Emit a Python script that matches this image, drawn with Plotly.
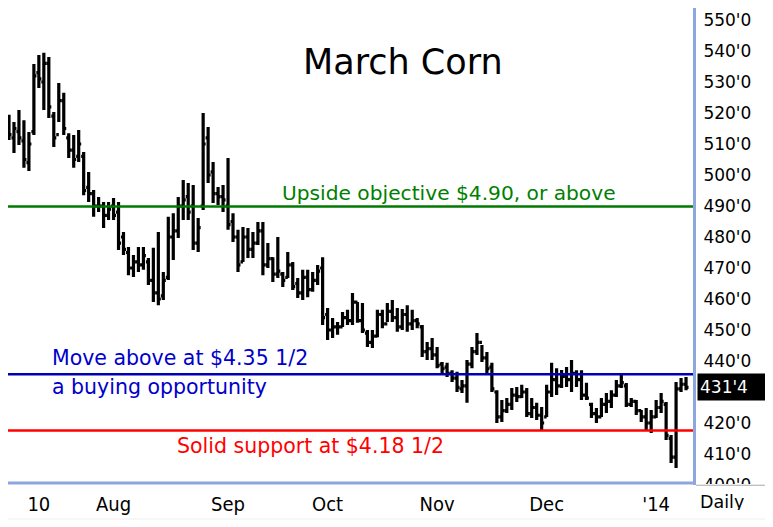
import pandas as pd
import plotly.graph_objects as go

# ---- data ----
holidays = ["2013-07-04", "2013-09-02", "2013-11-28", "2013-12-25", "2014-01-01"]
dates = [d.strftime("%Y-%m-%d") for d in
         pd.bdate_range("2013-07-01", "2014-01-14", freq="C", holidays=holidays)]

highs = [519.4, 517.1, 521.0, 517.7, 513.9, 535.8, 538.7, 539.4, 538.1, 520.3,
         529.7, 526.5, 513.5, 512.9, 514.5, 507.4, 501.0, 495.2, 492.9, 491.3,
         491.3, 492.6, 491.3, 481.6, 476.8, 474.2, 476.8, 476.8, 473.2, 476.5,
         481.6, 468.7, 486.5, 487.7, 492.9, 498.4, 497.4, 496.8, 486.1, 520.0,
         515.5, 504.2, 496.1, 496.8, 505.5, 487.7, 482.3, 483.2, 482.9, 481.6,
         484.8, 484.8, 478.1, 473.5, 480.0, 468.7, 475.2, 471.9, 466.8, 469.4,
         469.4, 468.7, 471.0, 473.5, 457.1, 453.9, 452.6, 455.8, 456.5, 461.9,
         459.0, 458.7, 450.0, 450.0, 456.5, 456.5, 458.7, 459.7, 457.1, 456.8,
         458.0, 456.5, 453.9, 451.6, 446.1, 447.4, 444.5, 439.7, 439.4, 437.0,
         436.5, 433.9, 440.3, 444.5, 449.0, 445.2, 442.9, 439.4, 430.6, 427.4,
         428.1, 431.3, 431.6, 432.3, 431.3, 428.1, 426.5, 425.2, 432.3, 439.4,
         437.7, 437.1, 438.1, 440.3, 437.0, 437.0, 433.0, 426.5, 424.8, 428.1,
         429.7, 430.6, 433.9, 435.5, 432.9, 428.1, 427.4, 424.2, 424.8, 424.2,
         427.4, 429.7, 426.8, 416.1, 433.2, 434.5, 434.8]
lows = [511.3, 507.1, 509.7, 502.3, 501.3, 512.9, 528.1, 521.0, 518.4, 509.0,
        517.1, 512.9, 505.5, 502.3, 504.2, 493.5, 491.3, 486.5, 488.1, 482.9,
        485.5, 485.5, 475.8, 474.2, 467.7, 467.1, 468.7, 469.4, 464.5, 459.0,
        458.0, 459.7, 466.1, 472.6, 479.7, 485.5, 485.5, 475.8, 475.2, 488.7,
        497.4, 491.0, 490.3, 488.1, 482.3, 478.4, 468.7, 471.9, 473.2, 473.2,
        477.4, 467.7, 470.0, 465.5, 466.8, 463.9, 466.8, 462.9, 460.3, 459.7,
        460.6, 462.3, 464.5, 451.6, 446.8, 447.4, 448.5, 451.0, 451.6, 451.6,
        452.3, 449.0, 444.5, 444.2, 447.7, 450.6, 452.6, 452.6, 449.4, 450.0,
        449.4, 450.0, 450.6, 441.3, 440.3, 440.3, 437.7, 436.1, 434.8, 433.2,
        430.0, 429.7, 426.5, 437.7, 441.9, 439.7, 436.1, 430.0, 420.0, 420.3,
        423.2, 424.2, 426.8, 428.1, 421.9, 421.6, 421.0, 417.7, 421.9, 428.4,
        429.0, 431.3, 431.6, 430.0, 431.6, 427.4, 427.4, 421.6, 420.0, 421.9,
        423.2, 424.8, 428.4, 431.3, 425.2, 425.2, 422.6, 420.3, 417.7, 416.8,
        421.6, 423.2, 414.5, 407.1, 405.5, 430.0, 430.6]
opens = [517, 512, 514, 511, 504, 514, 533, 530, 536, 519,
         513, 524, 512, 508, 506, 506, 496, 494, 490, 490,
         487, 490, 488, 480, 475, 470, 472, 471, 472, 466,
         462, 461, 467, 480, 482, 490, 493, 490, 478, 490,
         512, 501, 494, 493, 490, 485, 480, 472, 480, 476,
         478, 482, 471, 473, 468, 468, 467, 471, 465, 462,
         467, 463, 466, 470, 455, 450, 451, 451, 454, 453,
         459, 453, 449, 446, 448, 455, 452, 456, 454, 451,
         455, 452, 453, 451, 443, 444, 442, 439, 438, 436,
         434.5, 431, 432, 439, 443, 446, 441, 438, 430, 422,
         424, 426, 429, 428.5, 430, 423, 425, 422.5, 422, 430,
         434, 432, 435, 434, 436, 434, 429, 426, 423, 422,
         426, 427, 429, 432, 432, 426, 427, 424, 422, 420,
         422, 425, 426, 415, 409, 431, 432.5]
closes = [513, 515, 512, 505, 510, 532, 531, 536, 522, 512,
          524, 515, 508, 505, 510, 495, 494, 490, 490, 487,
          489, 487, 478, 476, 470, 472, 471, 474, 466, 462,
          460, 466, 480, 482, 490, 492, 488, 478, 483, 510,
          500, 494, 493, 492, 484, 480, 471, 480, 476, 478,
          482, 471, 473, 468, 469, 466, 471, 464, 462, 467,
          463, 466, 469, 454, 450, 451, 451, 454, 453, 459,
          453, 450, 446, 448, 455, 452, 456, 454, 451, 455,
          452, 453, 452, 443, 444, 442, 438.5, 437.5, 436, 434.5,
          431.5, 432, 439, 443, 446, 441, 437.5, 431, 422, 424,
          426, 429, 428.5, 430, 423, 425, 422.5, 420, 430, 434,
          432, 435, 434, 436, 434, 429, 428, 423, 422, 426,
          427, 429, 432, 433, 426, 427, 424, 422, 420, 422,
          425, 427, 416, 409, 431, 432.5, 431.5]

# positions of the time labels as they sit in the picture
month_ticks = ["2013-07-10", "2013-07-31", "2013-09-03", "2013-10-01",
               "2013-10-31", "2013-12-03", "2014-01-06"]
month_labels = ["10", "Aug", "Sep", "Oct", "Nov", "Dec", "'14"]

price_ticks = [400, 410, 420, 440, 450, 460, 470, 480, 490, 500, 510, 520, 530, 540, 550]
price_labels = [f"{v}'0" for v in price_ticks]

objective = 489.8
buy_level = 435.7
support = 417.6
last_price = 431.5
last_label = "431'4"

# ---- figure ----
AX = "#8EA6DE"
fig = go.Figure()
fig.add_trace(go.Ohlc(
    x=dates, open=opens, high=highs, low=lows, close=closes,
    increasing=dict(line=dict(color="black", width=3.2)),
    decreasing=dict(line=dict(color="black", width=3.2)),
    tickwidth=0.5, hoverinfo="skip", showlegend=False,
))

for lvl, col in [(objective, "#007A00"), (buy_level, "#0000B4"), (support, "#FF0000")]:
    fig.add_shape(type="line", xref="paper", yref="y", x0=0, x1=1, y0=lvl, y1=lvl,
                  line=dict(color=col, width=2.5), layer="above")

# bottom axis line (drawn as a shape), faint bottom rule
fig.add_shape(type="line", xref="paper", yref="paper", x0=-0.007, x1=1.0, y0=0.0042, y1=0.0042,
              line=dict(color=AX, width=3), layer="above")
fig.add_shape(type="line", xref="paper", yref="paper", x0=-0.02, x1=1.13, y0=-0.0713, y1=-0.0713,
              line=dict(color="#EEEEEE", width=1), layer="above")

# white cover (shape, above the axis labels) that clips the lower part of the bottom
# price label, then its gray top edge
fig.add_shape(type="rect", xref="paper", yref="paper", x0=1.0045, x1=1.13, y0=0.0021, y1=-0.03,
              fillcolor="white", line=dict(width=0), layer="above")
fig.add_shape(type="line", xref="paper", yref="paper", x0=1.0045, x1=1.13, y0=-0.0005, y1=-0.0005,
              line=dict(color="#A8A8A8", width=1), layer="above")

TF = "DejaVu Sans"
ann = [
    dict(text="March Corn", x=0.5766, y=0.8868, xanchor="center", yanchor="middle",
         font=dict(size=35, color="black", family=TF)),
    dict(text="Upside objective $4.90, or above", x=0.3971, y=0.6122, xanchor="left",
         yanchor="middle", font=dict(size=20.2, color="#008000", family=TF)),
    dict(text="Move above at $4.35 1/2", x=0.0613, y=0.2662, xanchor="left",
         yanchor="middle", font=dict(size=20.5, color="#0000CC", family=TF)),
    dict(text="a buying opportunity", x=0.0613, y=0.2055, xanchor="left",
         yanchor="middle", font=dict(size=20.5, color="#0000CC", family=TF)),
    dict(text="Solid support at $4.18 1/2", x=0.2438, y=0.0818, xanchor="left",
         yanchor="middle", font=dict(size=20.5, color="#FF0000", family=TF)),
    dict(text="Daily", x=1.0423, y=-0.0366, xanchor="center", yanchor="middle",
         height=16, borderpad=0, font=dict(size=17.5, color="black", family=TF)),
]
for a in ann:
    fig.add_annotation(xref="paper", yref="paper", showarrow=False, **a)

fig.add_annotation(text=last_label, xref="paper", yref="y", x=1.0058, y=last_price,
                   xanchor="left", yanchor="middle", showarrow=False,
                   bgcolor="black", font=dict(size=17, color="white", family=TF),
                   width=80, height=22, align="left", borderpad=2)

# the page body adds an 8px offset; figure is sized so the picture lands at 773x527
fig.update_layout(
    width=765, height=519,
    margin=dict(l=0, r=80, t=0, b=42),
    paper_bgcolor="white", plot_bgcolor="white",
    showlegend=False,
    xaxis=dict(type="category", categoryorder="array", categoryarray=dates,
               range=[-0.2, 137.4], rangeslider=dict(visible=False),
               tickmode="array", tickvals=month_ticks, ticktext=month_labels,
               showgrid=False, zeroline=False, showline=False,
               ticks="", ticklabelstandoff=5,
               tickfont=dict(size=20, color="black",
                             family="Liberation Sans Narrow, DejaVu Sans Condensed, sans-serif")),
    yaxis=dict(side="right", range=[400.0, 553.87], tickmode="array",
               tickvals=price_ticks, ticktext=price_labels,
               showgrid=False, zeroline=False, showline=True, linecolor=AX, linewidth=3,
               ticks="", ticklabelstandoff=4,
               tickfont=dict(size=17, color="black", family=TF)),
)

fig.write_html("out.html")
